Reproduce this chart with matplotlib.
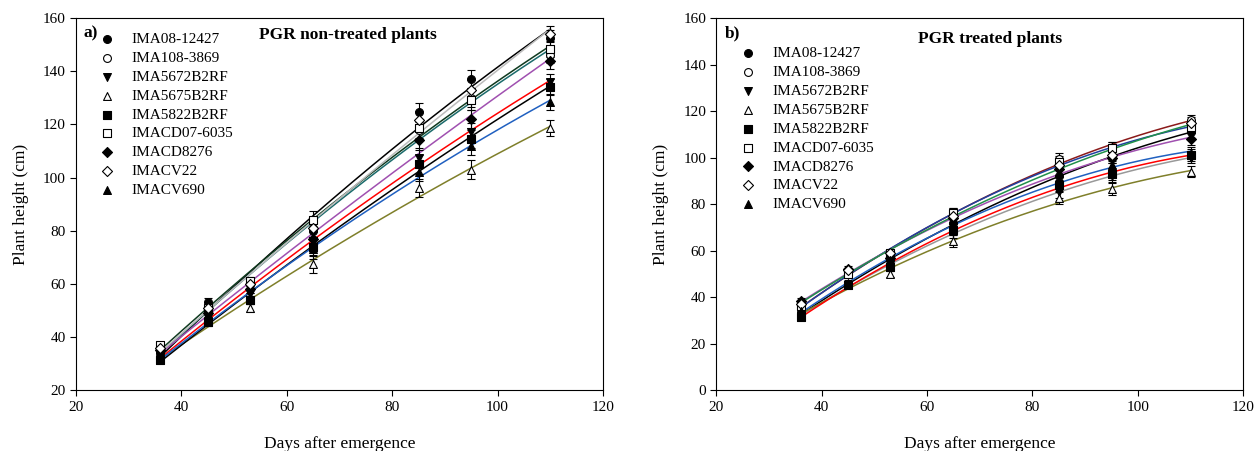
import numpy as np
import matplotlib
matplotlib.use('Agg')
import matplotlib.pyplot as plt

plt.rcParams['font.family'] = ['Liberation Serif', 'DejaVu Serif']

days = [36, 45, 53, 65, 85, 95, 110]
genotypes = ['IMA08-12427', 'IMA108-3869', 'IMA5672B2RF', 'IMA5675B2RF', 'IMA5822B2RF',
             'IMACD07-6035', 'IMACD8276', 'IMACV22', 'IMACV690']
markers = ['o', 'o', 'v', '^', 's', 's', 'D', 'D', '^']
filled = [True, False, True, False, True, False, True, False, True]

# PGR non-treated plants
nt_ima08 = [34, 53, 60, 80, 124.5, 137, 152.5]
nt_ima108 = [36, 50, 60, 81, 118, 130, 146]
nt_5672 = [33, 47, 56, 76, 107.5, 117, 136]
nt_5675 = [32, 46, 51, 67.5, 96, 103, 118.5]
nt_5822 = [31.5, 45.5, 54, 74, 105, 114.5, 134]
nt_cd07 = [37, 51, 61, 84, 118.5, 129, 148.5]
nt_cd8276 = [35, 49, 58, 77, 114, 122, 144]
nt_cv22 = [36, 51, 60, 81, 121.5, 133, 154]
nt_cv690 = [32, 46, 55, 73, 102, 112, 128.5]
nt_err = [1.2, 1.5, 1.5, 3.5, 3.5, 3.5, 3.0]

# PGR treated plants
t_ima08 = [33, 45, 56, 72, 92, 100, 111]
t_ima108 = [36, 50, 59, 76, 99.5, 104, 116]
t_5672 = [32, 45, 53, 68, 85, 92, 100]
t_5675 = [33, 45, 50, 64, 82.5, 86.5, 94]
t_5822 = [31.5, 45, 53, 69, 88, 93, 101]
t_cd07 = [36, 50, 59, 76, 98, 104, 113]
t_cd8276 = [38.5, 52, 57, 74, 95, 100, 108]
t_cv22 = [37, 51.5, 59, 75, 97, 101, 115]
t_cv690 = [34, 46, 56, 71, 89, 97, 102]
t_err = [1.2, 1.2, 1.2, 2.5, 2.5, 2.5, 2.5]

nt_series = [nt_ima08, nt_ima108, nt_5672, nt_5675, nt_5822, nt_cd07, nt_cd8276, nt_cv22, nt_cv690]
t_series = [t_ima08, t_ima108, t_5672, t_5675, t_5822, t_cd07, t_cd8276, t_cv22, t_cv690]

nt_colors = ['black', '#1b6b6b', 'red', '#7f7f2a', 'black', '#0f3a1f', '#a050b0', '#bbbbbb', '#2060c0']
t_colors = ['black', '#8b1a1a', '#999999', '#7f7f2a', 'red', '#2040a0', '#a050b0', '#20904a', '#2060c0']

fig = plt.figure(figsize=(12.57, 4.51), dpi=100)
ax1 = fig.add_axes([0.0605, 0.135, 0.4192, 0.825])
ax2 = fig.add_axes([0.570, 0.135, 0.4190, 0.825])

def draw(ax, series, colors, err, ylim, yticks, title, tag, legend_y, title_x, title_y):
    xs = np.linspace(days[0], days[-1], 200)
    for vals, col in zip(series, colors):
        coef = np.polyfit(days, vals, 2)
        ax.plot(xs, np.polyval(coef, xs), color=col, lw=1.1, zorder=2)
    handles = []
    for vals, name, m, f in zip(series, genotypes, markers, filled):
        ax.errorbar(days, vals, yerr=err, fmt='none', ecolor='black', elinewidth=0.8,
                    capsize=3, capthick=0.8, zorder=3)
        h = ax.scatter(days, vals, marker=m, s=32 if m != 'D' else 26,
                       facecolor='black' if f else 'white', edgecolor='black',
                       linewidths=0.8, zorder=4, label=name)
        handles.append(h)
    ax.set_xlim(20, 120)
    ax.set_ylim(*ylim)
    ax.set_xticks([20, 40, 60, 80, 100, 120])
    ax.set_yticks(yticks)
    ax.tick_params(direction='out', labelsize=11, length=4, top=False, right=False)
    ax.set_xlabel('Days after emergence', fontsize=12.5, labelpad=16)
    ax.set_ylabel('Plant height (cm)', fontsize=12.5, labelpad=10)
    ax.text(0.015, 0.98, tag, transform=ax.transAxes, fontsize=12.5, fontweight='bold',
            va='top', ha='left')
    ax.text(title_x, title_y, title, transform=ax.transAxes, fontsize=12.5, fontweight='bold',
            va='top', ha='center')
    ax.legend(handles=handles, loc='upper left', bbox_to_anchor=(0.03, legend_y), frameon=False,
              fontsize=11, handletextpad=1.0, labelspacing=0.34, borderaxespad=0,
              handlelength=1.2)

draw(ax1, nt_series, nt_colors, nt_err, (20, 160), range(20, 161, 20),
     'PGR non-treated plants', 'a)', 0.978, 0.515, 0.975)
draw(ax2, t_series, t_colors, t_err, (0, 160), range(0, 161, 20),
     'PGR treated plants', 'b)', 0.94, 0.52, 0.965)

fig.savefig('out.png', dpi=100)
